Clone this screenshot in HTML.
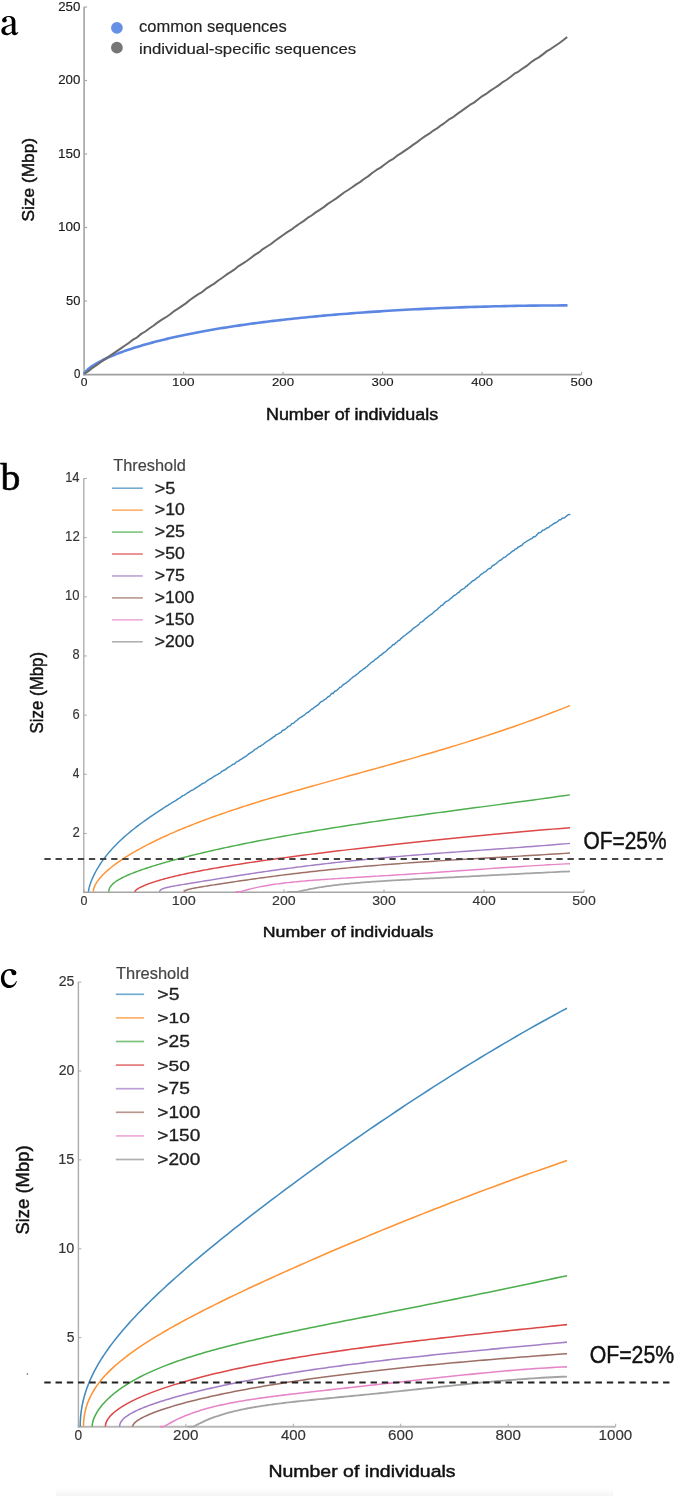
<!DOCTYPE html>
<html><head><meta charset="utf-8"><style>
html,body{margin:0;padding:0;background:#fff;}
body{width:685px;height:1496px;overflow:hidden;font-family:"Liberation Sans",sans-serif;}
svg{display:block;will-change:transform;filter:blur(0.3px);}
text{-webkit-font-smoothing:antialiased;}
</style></head><body>
<svg width="685" height="1496" viewBox="0 0 685 1496">
<rect width="685" height="1496" fill="#fff"/>
<path fill-rule="evenodd" fill="#000" d="M8.6 16.0 C12.6 16.0 15.4 17.6 15.4 21.5 L15.4 31.0 C15.4 32.3 15.9 32.8 16.5 32.8 C17.1 32.8 17.6 32.4 18.0 31.8 L18.4 32.3 C17.5 34.3 16.2 35.2 14.6 35.2 C13.0 35.2 12.0 34.2 11.8 32.4 C10.2 34.3 8.4 35.2 6.1 35.2 C3.2 35.2 1.3 33.5 1.3 30.8 C1.3 28.9 2.3 27.5 4.6 26.5 C6.5 25.7 9.0 24.9 11.8 24.0 L11.8 21.6 C11.8 18.6 10.6 17.1 8.6 17.1 C7.4 17.1 6.4 17.6 6.1 18.5 L2.6 19.6 C3.3 17.3 5.6 16.0 8.6 16.0 Z M11.8 25.2 C9.6 26.0 7.8 26.6 6.8 27.3 C5.6 28.2 5.2 29.3 5.2 30.4 C5.2 32.2 6.3 33.2 7.8 33.2 C9.2 33.2 10.6 32.5 11.8 31.4 Z"/>
<circle cx="4.4" cy="20.3" r="2.3" fill="#000"/>
<line x1="84.10" y1="7.00" x2="84.10" y2="375.50" stroke="#a4a4a4" stroke-width="1.6" />
<line x1="83.30" y1="374.70" x2="581.60" y2="374.70" stroke="#a0a0a0" stroke-width="1.8" />
<line x1="84.10" y1="374.50" x2="87.10" y2="374.50" stroke="#a8a8a8" stroke-width="1.2" />
<text transform="translate(73.94,378.10) scale(0.8814,1)" font-family="Liberation Sans" font-size="13.00" fill="#1a1a1a" stroke="#1a1a1a" stroke-width="0.15">0</text>
<line x1="84.10" y1="301.00" x2="87.10" y2="301.00" stroke="#a8a8a8" stroke-width="1.2" />
<text transform="translate(65.98,304.60) scale(0.9959,1)" font-family="Liberation Sans" font-size="13.00" fill="#1a1a1a" stroke="#1a1a1a" stroke-width="0.15">50</text>
<line x1="84.10" y1="227.50" x2="87.10" y2="227.50" stroke="#a8a8a8" stroke-width="1.2" />
<text transform="translate(57.89,231.10) scale(1.0388,1)" font-family="Liberation Sans" font-size="13.00" fill="#1a1a1a" stroke="#1a1a1a" stroke-width="0.15">100</text>
<line x1="84.10" y1="154.00" x2="87.10" y2="154.00" stroke="#a8a8a8" stroke-width="1.2" />
<text transform="translate(57.89,157.60) scale(1.0388,1)" font-family="Liberation Sans" font-size="13.00" fill="#1a1a1a" stroke="#1a1a1a" stroke-width="0.15">150</text>
<line x1="84.10" y1="80.50" x2="87.10" y2="80.50" stroke="#a8a8a8" stroke-width="1.2" />
<text transform="translate(58.24,84.10) scale(1.0224,1)" font-family="Liberation Sans" font-size="13.00" fill="#1a1a1a" stroke="#1a1a1a" stroke-width="0.15">200</text>
<line x1="84.10" y1="7.00" x2="87.10" y2="7.00" stroke="#a8a8a8" stroke-width="1.2" />
<text transform="translate(58.24,10.60) scale(1.0224,1)" font-family="Liberation Sans" font-size="13.00" fill="#1a1a1a" stroke="#1a1a1a" stroke-width="0.15">250</text>
<line x1="84.10" y1="374.70" x2="84.10" y2="371.70" stroke="#a8a8a8" stroke-width="1.2" />
<text transform="translate(80.72,385.90) scale(1.0442,1)" font-family="Liberation Sans" font-size="11.57" fill="#1a1a1a" stroke="#1a1a1a" stroke-width="0.15">0</text>
<line x1="183.60" y1="374.70" x2="183.60" y2="371.70" stroke="#a8a8a8" stroke-width="1.2" />
<text transform="translate(172.09,385.90) scale(1.1671,1)" font-family="Liberation Sans" font-size="11.57" fill="#1a1a1a" stroke="#1a1a1a" stroke-width="0.15">100</text>
<line x1="283.10" y1="374.70" x2="283.10" y2="371.70" stroke="#a8a8a8" stroke-width="1.2" />
<text transform="translate(271.94,385.90) scale(1.1486,1)" font-family="Liberation Sans" font-size="11.57" fill="#1a1a1a" stroke="#1a1a1a" stroke-width="0.15">200</text>
<line x1="382.60" y1="374.70" x2="382.60" y2="371.70" stroke="#a8a8a8" stroke-width="1.2" />
<text transform="translate(371.57,385.90) scale(1.1414,1)" font-family="Liberation Sans" font-size="11.57" fill="#1a1a1a" stroke="#1a1a1a" stroke-width="0.15">300</text>
<line x1="482.10" y1="374.70" x2="482.10" y2="371.70" stroke="#a8a8a8" stroke-width="1.2" />
<text transform="translate(471.34,385.90) scale(1.1272,1)" font-family="Liberation Sans" font-size="11.57" fill="#1a1a1a" stroke="#1a1a1a" stroke-width="0.15">400</text>
<line x1="581.60" y1="374.70" x2="581.60" y2="371.70" stroke="#a8a8a8" stroke-width="1.2" />
<text transform="translate(570.57,385.90) scale(1.1414,1)" font-family="Liberation Sans" font-size="11.57" fill="#1a1a1a" stroke="#1a1a1a" stroke-width="0.15">500</text>
<circle cx="116.9" cy="27.8" r="5.9" fill="#6690e6"/>
<circle cx="116.9" cy="47.7" r="5.9" fill="#767676"/>
<text transform="translate(139.04,31.80) scale(1.0372,1)" font-family="Liberation Sans" font-size="15.93" fill="#222" stroke="#222" stroke-width="0.15">common sequences</text>
<text transform="translate(138.91,53.90) scale(1.1274,1)" font-family="Liberation Sans" font-size="14.90" fill="#222" stroke="#222" stroke-width="0.15">individual-specific sequences</text>
<text transform="translate(265.97,420.10) scale(1.1308,1)" font-family="Liberation Sans" font-size="15.86" fill="#111" stroke="#111" stroke-width="0.45">Number of individuals</text>
<text transform="translate(34.10,221.48) rotate(-90) scale(1.0110,1)" font-family="Liberation Sans" font-size="17.10" fill="#111" stroke="#111" stroke-width="0.45">Size (Mbp)</text>
<polyline points="84.40,374.40 84.42,374.15 84.46,373.89 84.54,373.62 84.64,373.33 84.78,373.03 84.94,372.72 85.14,372.40 85.36,372.07 85.62,371.72 85.91,371.37 86.22,371.00 86.57,370.63 86.95,370.25 87.36,369.86 87.79,369.45 88.26,369.04 88.76,368.63 89.29,368.20 89.84,367.77 90.43,367.33 91.05,366.88 91.70,366.43 92.38,365.96 93.08,365.50 93.82,365.02 94.59,364.55 95.39,364.06 96.22,363.57 97.08,363.08 97.97,362.58 98.89,362.08 99.84,361.57 100.82,361.06 101.83,360.54 102.87,360.02 103.94,359.50 105.04,358.98 106.17,358.45 107.33,357.92 108.52,357.38 109.75,356.85 111.00,356.31 112.28,355.77 113.59,355.23 114.93,354.68 116.30,354.14 117.71,353.59 119.14,353.05 120.60,352.50 122.09,351.95 123.62,351.40 125.17,350.85 126.75,350.30 128.37,349.75 130.01,349.20 131.68,348.65 133.39,348.09 135.12,347.54 136.88,346.99 138.68,346.45 140.50,345.90 142.36,345.35 144.24,344.80 146.16,344.26 148.10,343.71 150.08,343.17 152.08,342.63 154.12,342.08 156.18,341.55 158.28,341.01 160.41,340.47 162.56,339.94 164.75,339.41 166.96,338.88 169.21,338.35 171.49,337.82 173.79,337.30 176.13,336.78 178.50,336.26 180.90,335.74 183.32,335.23 185.78,334.72 188.27,334.21 190.79,333.70 193.34,333.20 195.91,332.70 198.52,332.21 201.16,331.71 203.83,331.22 206.53,330.73 209.26,330.25 212.02,329.77 214.81,329.29 217.63,328.81 220.47,328.34 223.35,327.88 226.26,327.41 229.20,326.95 232.18,326.49 235.18,326.04 238.21,325.59 241.27,325.14 244.36,324.70 247.48,324.26 250.63,323.83 253.81,323.40 257.02,322.97 260.26,322.55 263.54,322.13 266.84,321.71 270.17,321.30 273.53,320.89 276.93,320.49 280.35,320.09 283.80,319.70 287.28,319.31 290.80,318.92 294.34,318.54 297.91,318.17 301.52,317.79 305.15,317.42 308.81,317.06 312.51,316.70 316.23,316.35 319.99,316.00 323.77,315.65 327.59,315.31 331.43,314.98 335.31,314.64 339.21,314.32 343.15,314.00 347.11,313.68 351.11,313.37 355.13,313.06 359.19,312.76 363.27,312.46 367.39,312.17 371.54,311.89 375.71,311.60 379.92,311.33 384.16,311.06 388.42,310.79 392.72,310.53 397.05,310.28 401.41,310.03 405.79,309.79 410.21,309.55 414.66,309.32 419.14,309.09 423.65,308.87 428.18,308.66 432.75,308.45 437.35,308.25 441.98,308.05 446.64,307.86 451.33,307.68 456.05,307.50 460.80,307.33 465.58,307.17 470.39,307.01 475.23,306.86 480.10,306.71 485.00,306.58 489.93,306.45 494.89,306.32 499.88,306.21 504.90,306.10 509.95,306.00 515.03,305.90 520.14,305.82 525.28,305.74 530.45,305.67 535.66,305.60 540.89,305.55 546.15,305.50 551.44,305.46 556.76,305.43 562.12,305.41 567.50,305.40" fill="none" stroke="#5b87e3" stroke-width="2.6" stroke-linejoin="round" stroke-linecap="butt" />
<polyline points="84.40,373.74 88.46,371.13 92.51,367.79 96.57,365.18 100.63,362.24 104.69,359.38 108.74,356.61 112.80,353.90 116.86,351.11 120.91,348.38 124.97,345.47 129.03,342.82 133.09,339.66 137.14,337.30 141.20,333.88 145.26,331.50 149.31,328.50 153.37,325.77 157.43,322.65 161.49,319.86 165.54,317.46 169.60,314.75 173.66,311.46 177.71,308.90 181.77,306.20 185.83,303.38 189.89,299.99 193.94,297.13 198.00,294.39 202.06,292.06 206.11,288.69 210.17,286.09 214.23,283.63 218.29,280.51 222.34,277.79 226.40,274.70 230.46,272.13 234.51,269.41 238.57,266.01 242.63,263.69 246.69,261.03 250.74,258.04 254.80,254.88 258.86,252.41 262.91,249.10 266.97,246.52 271.03,244.01 275.09,240.75 279.14,237.92 283.20,234.98 287.26,232.08 291.31,229.71 295.37,226.56 299.43,223.77 303.49,221.10 307.54,217.96 311.60,215.50 315.66,212.37 319.71,209.85 323.77,207.10 327.83,203.86 331.89,201.25 335.94,198.62 340.00,195.59 344.06,192.51 348.11,190.02 352.17,187.28 356.23,184.35 360.29,181.83 364.34,178.75 368.40,176.14 372.46,172.78 376.51,169.95 380.57,167.59 384.63,164.48 388.69,161.49 392.74,159.19 396.80,155.96 400.86,153.41 404.91,150.57 408.97,147.85 413.03,144.84 417.09,142.10 421.14,138.99 425.20,136.11 429.26,133.72 433.31,130.56 437.37,128.11 441.43,125.07 445.49,122.22 449.54,119.03 453.60,116.79 457.66,113.61 461.71,110.88 465.77,107.93 469.83,104.98 473.89,102.62 477.94,99.56 482.00,96.33 486.06,93.94 490.11,90.91 494.17,88.22 498.23,85.64 502.29,82.44 506.34,80.00 510.40,76.97 514.46,73.72 518.51,71.53 522.57,68.54 526.63,65.93 530.69,62.52 534.74,59.67 538.80,57.40 542.86,54.40 546.91,51.13 550.97,48.79 555.03,45.96 559.09,43.25 563.14,40.28 567.20,37.04" fill="none" stroke="#6a6a6a" stroke-width="2.0" stroke-linejoin="round" stroke-linecap="butt" />
<text transform="translate(0.50,489.70) scale(1.0240,1)" font-family="Liberation Serif" font-size="38.85" fill="#000" stroke="#000" stroke-width="0.60">b</text>
<line x1="83.80" y1="478.30" x2="83.80" y2="893.00" stroke="#a8a8a8" stroke-width="1.3" />
<line x1="83.20" y1="892.30" x2="584.00" y2="892.30" stroke="#a5a5a5" stroke-width="1.6" />
<line x1="83.80" y1="892.60" x2="86.80" y2="892.60" stroke="#a8a8a8" stroke-width="1.0" />
<line x1="83.80" y1="833.44" x2="86.80" y2="833.44" stroke="#a8a8a8" stroke-width="1.0" />
<text transform="translate(72.44,836.94) scale(0.9516,1)" font-family="Liberation Sans" font-size="13.86" fill="#333" stroke="#333" stroke-width="0.15">2</text>
<line x1="83.80" y1="774.28" x2="86.80" y2="774.28" stroke="#a8a8a8" stroke-width="1.0" />
<text transform="translate(72.86,777.78) scale(0.8452,1)" font-family="Liberation Sans" font-size="14.06" fill="#333" stroke="#333" stroke-width="0.15">4</text>
<line x1="83.80" y1="715.12" x2="86.80" y2="715.12" stroke="#a8a8a8" stroke-width="1.0" />
<text transform="translate(72.45,718.62) scale(0.9312,1)" font-family="Liberation Sans" font-size="13.86" fill="#333" stroke="#333" stroke-width="0.15">6</text>
<line x1="83.80" y1="655.96" x2="86.80" y2="655.96" stroke="#a8a8a8" stroke-width="1.0" />
<text transform="translate(72.53,659.46) scale(0.9213,1)" font-family="Liberation Sans" font-size="13.86" fill="#333" stroke="#333" stroke-width="0.15">8</text>
<line x1="83.80" y1="596.80" x2="86.80" y2="596.80" stroke="#a8a8a8" stroke-width="1.0" />
<text transform="translate(65.12,600.30) scale(0.9381,1)" font-family="Liberation Sans" font-size="13.86" fill="#333" stroke="#333" stroke-width="0.15">10</text>
<line x1="83.80" y1="537.64" x2="86.80" y2="537.64" stroke="#a8a8a8" stroke-width="1.0" />
<text transform="translate(65.11,541.14) scale(0.9524,1)" font-family="Liberation Sans" font-size="13.86" fill="#333" stroke="#333" stroke-width="0.15">12</text>
<line x1="83.80" y1="478.48" x2="86.80" y2="478.48" stroke="#a8a8a8" stroke-width="1.0" />
<text transform="translate(65.13,481.98) scale(0.9201,1)" font-family="Liberation Sans" font-size="14.06" fill="#333" stroke="#333" stroke-width="0.15">14</text>
<line x1="84.00" y1="892.30" x2="84.00" y2="889.30" stroke="#a8a8a8" stroke-width="1.0" />
<text transform="translate(80.50,904.50) scale(0.9309,1)" font-family="Liberation Sans" font-size="13.43" fill="#333" stroke="#333" stroke-width="0.15">0</text>
<line x1="184.00" y1="892.30" x2="184.00" y2="889.30" stroke="#a8a8a8" stroke-width="1.0" />
<text transform="translate(171.72,904.50) scale(1.0727,1)" font-family="Liberation Sans" font-size="13.43" fill="#333" stroke="#333" stroke-width="0.15">100</text>
<line x1="284.00" y1="892.30" x2="284.00" y2="889.30" stroke="#a8a8a8" stroke-width="1.0" />
<text transform="translate(272.09,904.50) scale(1.0558,1)" font-family="Liberation Sans" font-size="13.43" fill="#333" stroke="#333" stroke-width="0.15">200</text>
<line x1="384.00" y1="892.30" x2="384.00" y2="889.30" stroke="#a8a8a8" stroke-width="1.0" />
<text transform="translate(372.24,904.50) scale(1.0491,1)" font-family="Liberation Sans" font-size="13.43" fill="#333" stroke="#333" stroke-width="0.15">300</text>
<line x1="484.00" y1="892.30" x2="484.00" y2="889.30" stroke="#a8a8a8" stroke-width="1.0" />
<text transform="translate(472.52,904.50) scale(1.0361,1)" font-family="Liberation Sans" font-size="13.43" fill="#333" stroke="#333" stroke-width="0.15">400</text>
<line x1="584.00" y1="892.30" x2="584.00" y2="889.30" stroke="#a8a8a8" stroke-width="1.0" />
<text transform="translate(572.24,904.50) scale(1.0491,1)" font-family="Liberation Sans" font-size="13.43" fill="#333" stroke="#333" stroke-width="0.15">500</text>
<text transform="translate(113.27,471.20) scale(0.9718,1)" font-family="Liberation Sans" font-size="16.83" fill="#444" stroke="#444" stroke-width="0.18">Threshold</text>
<line x1="112.00" y1="488.20" x2="142.80" y2="488.20" stroke="#1f77b4" stroke-width="1.6" opacity="0.62"/>
<text transform="translate(154.80,493.50) scale(1.1351,1)" font-family="Liberation Sans" font-size="15.94" fill="#1e1e1e" stroke="#1e1e1e" stroke-width="0.30">&gt;5</text>
<line x1="112.00" y1="510.14" x2="142.80" y2="510.14" stroke="#ff7f0e" stroke-width="1.6" opacity="0.62"/>
<text transform="translate(154.81,515.44) scale(1.1265,1)" font-family="Liberation Sans" font-size="15.71" fill="#1e1e1e" stroke="#1e1e1e" stroke-width="0.30">&gt;10</text>
<line x1="112.00" y1="532.08" x2="142.80" y2="532.08" stroke="#2ca02c" stroke-width="1.6" opacity="0.62"/>
<text transform="translate(154.81,537.38) scale(1.1300,1)" font-family="Liberation Sans" font-size="15.71" fill="#1e1e1e" stroke="#1e1e1e" stroke-width="0.30">&gt;25</text>
<line x1="112.00" y1="554.02" x2="142.80" y2="554.02" stroke="#d62728" stroke-width="1.6" opacity="0.62"/>
<text transform="translate(154.81,559.32) scale(1.1265,1)" font-family="Liberation Sans" font-size="15.71" fill="#1e1e1e" stroke="#1e1e1e" stroke-width="0.30">&gt;50</text>
<line x1="112.00" y1="575.96" x2="142.80" y2="575.96" stroke="#9467bd" stroke-width="1.6" opacity="0.62"/>
<text transform="translate(154.81,581.26) scale(1.1138,1)" font-family="Liberation Sans" font-size="15.94" fill="#1e1e1e" stroke="#1e1e1e" stroke-width="0.30">&gt;75</text>
<line x1="112.00" y1="597.90" x2="142.80" y2="597.90" stroke="#8c564b" stroke-width="1.6" opacity="0.62"/>
<text transform="translate(154.82,603.20) scale(1.1169,1)" font-family="Liberation Sans" font-size="15.71" fill="#1e1e1e" stroke="#1e1e1e" stroke-width="0.30">&gt;100</text>
<line x1="112.00" y1="619.84" x2="142.80" y2="619.84" stroke="#e377c2" stroke-width="1.6" opacity="0.62"/>
<text transform="translate(154.82,625.14) scale(1.1169,1)" font-family="Liberation Sans" font-size="15.71" fill="#1e1e1e" stroke="#1e1e1e" stroke-width="0.30">&gt;150</text>
<line x1="112.00" y1="641.78" x2="142.80" y2="641.78" stroke="#7f7f7f" stroke-width="1.6" opacity="0.62"/>
<text transform="translate(154.82,647.08) scale(1.1169,1)" font-family="Liberation Sans" font-size="15.71" fill="#1e1e1e" stroke="#1e1e1e" stroke-width="0.30">&gt;200</text>
<text transform="translate(43.00,733.46) rotate(-90) scale(0.9641,1)" font-family="Liberation Sans" font-size="17.52" fill="#111" stroke="#111" stroke-width="0.45">Size (Mbp)</text>
<text transform="translate(262.78,937.30) scale(1.1495,1)" font-family="Liberation Sans" font-size="15.45" fill="#111" stroke="#111" stroke-width="0.45">Number of individuals</text>
<text transform="translate(583.46,849.20) scale(0.8920,1)" font-family="Liberation Sans" font-size="23.43" fill="#111" stroke="#111" stroke-width="0.45">OF=25%</text>
<polyline points="88.50,891.80 88.52,891.21 88.59,890.54 88.70,889.78 88.85,888.96 89.04,888.06 89.28,887.10 89.56,886.08 89.89,885.01 90.26,883.88 90.67,882.70 91.12,881.48 91.62,880.22 92.17,878.92 92.75,877.59 93.38,876.22 94.05,874.83 94.77,873.41 95.53,871.97 96.33,870.50 97.18,869.02 98.06,867.52 99.00,866.01 99.97,864.49 100.99,862.95 102.06,861.41 103.16,859.86 104.31,858.30 105.50,856.74 106.74,855.17 108.02,853.60 109.34,852.03 110.71,850.45 112.12,848.88 113.57,847.31 115.07,845.73 116.61,844.16 118.19,842.59 119.82,841.02 121.49,839.45 123.20,837.88 124.96,836.32 126.76,834.75 128.60,833.19 130.49,831.62 132.42,830.06 134.39,828.49 136.41,826.93 138.47,825.36 140.57,823.79 142.72,822.21 144.91,820.64 147.14,819.05 149.42,817.47 150.00,817.07 151.30,816.17 152.60,815.28 153.90,814.42 155.20,813.54 156.50,812.70 157.80,811.80 159.10,810.88 160.40,810.09 161.70,809.32 163.00,808.39 164.30,807.52 165.60,806.66 166.90,805.83 168.20,805.05 169.50,804.16 170.80,803.54 172.10,802.57 173.40,801.79 174.70,801.10 176.00,800.30 177.30,799.31 178.60,798.56 179.90,797.80 181.20,796.88 182.50,795.88 183.80,795.38 185.10,794.61 186.40,793.74 187.70,792.75 189.00,792.05 190.30,791.18 191.60,790.42 192.90,789.87 194.20,789.12 195.50,788.17 196.80,787.35 198.10,786.57 199.40,785.65 200.70,784.83 202.00,783.91 203.30,783.22 204.60,782.89 205.90,781.80 207.20,780.73 208.50,779.89 209.80,778.99 211.10,778.46 212.40,777.65 213.70,776.40 215.00,776.05 216.30,774.97 217.60,774.65 218.90,773.51 220.20,773.10 221.50,771.70 222.80,770.92 224.10,770.26 225.40,769.64 226.70,768.68 228.00,767.32 229.30,766.90 230.60,766.02 231.90,765.04 233.20,764.14 234.50,764.01 235.80,762.53 237.10,761.54 238.40,761.14 239.70,760.14 241.00,759.22 242.30,758.62 243.60,757.68 244.90,756.78 246.20,756.10 247.50,755.03 248.80,753.90 250.10,753.10 251.40,752.18 252.70,751.53 254.00,750.27 255.30,749.16 256.60,748.86 257.90,747.55 259.20,746.48 260.50,746.29 261.80,745.07 263.10,744.55 264.40,743.34 265.70,742.27 267.00,741.33 268.30,740.65 269.60,739.82 270.90,738.75 272.20,738.00 273.50,736.71 274.80,736.26 276.10,734.81 277.40,734.37 278.70,733.71 280.00,732.91 281.30,732.17 282.60,730.26 283.90,730.03 285.20,729.23 286.50,728.22 287.80,726.72 289.10,726.18 290.40,725.67 291.70,723.72 293.00,723.37 294.30,722.61 295.60,721.11 296.90,720.55 298.20,719.09 299.50,718.21 300.80,717.25 302.10,716.59 303.40,715.54 304.70,714.89 306.00,713.36 307.30,712.63 308.60,711.98 309.90,710.89 311.20,709.35 312.50,708.96 313.80,707.64 315.10,706.92 316.40,705.91 317.70,705.20 319.00,703.88 320.30,702.29 321.60,701.45 322.90,701.08 324.20,699.79 325.50,699.21 326.80,697.95 328.10,696.64 329.40,696.19 330.70,694.62 332.00,693.24 333.30,693.46 334.60,691.26 335.90,691.01 337.20,690.09 338.50,688.84 339.80,687.27 341.10,687.06 342.40,685.31 343.70,684.31 345.00,683.59 346.30,682.91 347.60,681.73 348.90,680.86 350.20,679.46 351.50,678.51 352.80,677.19 354.10,676.40 355.40,675.64 356.70,674.34 358.00,673.54 359.30,672.18 360.60,671.14 361.90,670.29 363.20,669.18 364.50,668.38 365.80,667.21 367.10,666.63 368.40,665.00 369.70,663.96 371.00,662.67 372.30,661.94 373.60,661.09 374.90,659.61 376.20,658.77 377.50,657.95 378.80,656.65 380.10,655.48 381.40,654.87 382.70,653.56 384.00,652.59 385.30,651.77 386.60,650.71 387.90,649.21 389.20,648.10 390.50,647.29 391.80,646.11 393.10,644.52 394.40,644.42 395.70,642.98 397.00,642.14 398.30,640.51 399.60,640.19 400.90,638.57 402.20,637.66 403.50,636.22 404.80,635.53 406.10,634.45 407.40,633.41 408.70,632.54 410.00,631.37 411.30,630.58 412.60,629.09 413.90,627.88 415.20,627.12 416.50,626.25 417.80,625.38 419.10,624.20 420.40,622.37 421.70,621.96 423.00,621.23 424.30,619.76 425.60,618.53 426.90,617.72 428.20,616.43 429.50,615.72 430.80,614.48 432.10,613.85 433.40,612.53 434.70,611.12 436.00,610.47 437.30,609.52 438.60,608.02 439.90,607.02 441.20,605.41 442.50,605.33 443.80,603.84 445.10,602.34 446.40,601.41 447.70,600.84 449.00,600.09 450.30,598.80 451.60,597.94 452.90,596.44 454.20,595.33 455.50,594.97 456.80,593.82 458.10,592.64 459.40,592.01 460.70,590.31 462.00,589.45 463.30,588.86 464.60,588.09 465.90,586.52 467.20,586.01 468.50,584.31 469.80,583.58 471.10,582.41 472.40,580.98 473.70,580.53 475.00,579.73 476.30,578.40 477.60,577.42 478.90,576.86 480.20,575.08 481.50,574.01 482.80,573.27 484.10,572.12 485.40,571.89 486.70,570.60 488.00,569.26 489.30,568.36 490.60,568.42 491.90,566.41 493.20,565.39 494.50,564.74 495.80,563.87 497.10,562.78 498.40,561.49 499.70,560.45 501.00,560.02 502.30,558.87 503.60,557.45 504.90,557.34 506.20,556.28 507.50,555.02 508.80,554.08 510.10,553.30 511.40,552.09 512.70,550.96 514.00,550.53 515.30,549.09 516.60,548.72 517.90,547.25 519.20,546.73 520.50,545.81 521.80,545.49 523.10,543.73 524.40,542.72 525.70,542.05 527.00,541.02 528.30,540.30 529.60,539.71 530.90,538.93 532.20,538.32 533.50,536.73 534.80,536.88 536.10,535.81 537.40,534.29 538.70,532.80 540.00,532.62 541.30,531.81 542.60,530.25 543.90,530.12 545.20,529.20 546.50,528.19 547.80,527.79 549.10,527.08 550.40,525.80 551.70,525.20 553.00,524.13 554.30,523.28 555.60,522.74 556.90,522.06 558.20,520.95 559.50,519.67 560.80,519.72 562.10,518.28 563.40,518.01 564.70,517.75 566.00,516.45 567.30,515.33 568.60,514.49 569.90,514.52 570.00,514.10" fill="none" stroke="#418bbf" stroke-width="1.45" stroke-linejoin="round" stroke-linecap="butt" />
<polyline points="93.40,891.80 93.42,891.11 93.49,890.40 93.59,889.68 93.74,888.95 93.94,888.21 94.17,887.46 94.45,886.70 94.77,885.92 95.14,885.14 95.55,884.34 96.00,883.53 96.49,882.71 97.03,881.88 97.61,881.04 98.23,880.18 98.90,879.32 99.60,878.45 100.36,877.56 101.15,876.67 101.99,875.76 102.87,874.85 103.79,873.93 104.76,872.99 105.77,872.05 106.82,871.10 107.91,870.14 109.05,869.17 110.23,868.19 111.45,867.20 112.72,866.21 114.03,865.20 115.38,864.19 116.78,863.18 118.22,862.15 119.70,861.12 121.22,860.08 122.79,859.03 124.40,857.98 126.05,856.93 127.75,855.86 129.49,854.79 131.27,853.72 133.09,852.64 134.96,851.55 136.87,850.46 138.83,849.37 140.82,848.27 142.86,847.17 144.94,846.06 147.07,844.95 149.24,843.84 151.45,842.73 153.70,841.61 156.00,840.48 158.34,839.36 160.72,838.23 163.15,837.10 165.62,835.97 168.13,834.84 170.68,833.70 173.28,832.56 175.92,831.42 178.60,830.28 181.33,829.14 184.10,828.00 186.91,826.85 189.77,825.71 192.67,824.56 195.61,823.42 198.59,822.27 201.62,821.12 204.69,819.97 207.80,818.82 210.96,817.67 214.15,816.52 217.40,815.37 220.68,814.22 224.01,813.07 227.38,811.91 230.79,810.76 234.25,809.60 237.75,808.45 241.29,807.29 244.87,806.13 248.50,804.97 252.17,803.81 255.89,802.65 259.64,801.48 263.44,800.31 267.29,799.15 271.17,797.97 275.10,796.80 279.07,795.62 283.09,794.44 287.14,793.26 291.24,792.07 295.39,790.87 299.57,789.68 303.80,788.47 308.08,787.26 312.39,786.05 316.75,784.83 321.15,783.60 325.59,782.36 330.08,781.12 334.61,779.87 339.18,778.60 343.80,777.33 348.46,776.05 353.16,774.76 357.90,773.45 362.69,772.14 367.52,770.81 372.39,769.46 377.31,768.10 382.27,766.73 387.27,765.34 392.31,763.93 397.40,762.50 402.53,761.06 407.71,759.59 412.92,758.10 418.18,756.60 423.48,755.06 428.83,753.51 434.22,751.93 439.65,750.32 445.12,748.69 450.64,747.02 456.20,745.33 461.80,743.60 467.45,741.85 473.14,740.06 478.87,738.23 484.65,736.37 490.46,734.47 496.32,732.53 502.23,730.55 508.17,728.53 514.16,726.46 520.20,724.35 526.27,722.19 532.39,719.98 538.55,717.72 544.75,715.41 551.00,713.04 557.29,710.62 563.62,708.14 570.00,705.60" fill="none" stroke="#ff9232" stroke-width="1.45" stroke-linejoin="round" stroke-linecap="butt" />
<polyline points="108.80,891.80 108.82,891.20 108.88,890.60 108.99,890.01 109.13,889.43 109.32,888.85 109.55,888.28 109.82,887.72 110.13,887.16 110.48,886.61 110.88,886.05 111.31,885.51 111.79,884.96 112.31,884.42 112.87,883.88 113.47,883.34 114.12,882.81 114.80,882.27 115.53,881.74 116.30,881.20 117.11,880.67 117.96,880.13 118.85,879.60 119.79,879.06 120.77,878.53 121.78,877.99 122.84,877.45 123.94,876.91 125.09,876.37 126.27,875.83 127.50,875.28 128.76,874.73 130.07,874.18 131.42,873.63 132.81,873.07 134.25,872.52 135.72,871.95 137.24,871.39 138.80,870.82 140.40,870.25 142.04,869.68 143.72,869.10 145.45,868.52 147.21,867.94 149.02,867.35 150.87,866.76 152.76,866.17 154.69,865.57 156.66,864.97 158.68,864.36 160.73,863.76 162.83,863.14 164.97,862.53 167.15,861.91 169.38,861.29 171.64,860.67 173.95,860.04 176.29,859.41 178.68,858.78 181.11,858.14 183.59,857.50 186.10,856.86 188.65,856.22 191.25,855.57 193.89,854.92 196.57,854.27 199.29,853.61 202.05,852.95 204.86,852.29 207.70,851.63 210.59,850.97 213.52,850.30 216.49,849.63 219.50,848.96 222.56,848.29 225.65,847.62 228.79,846.95 231.97,846.27 235.19,845.59 238.45,844.92 241.75,844.24 245.10,843.56 248.48,842.88 251.91,842.19 255.38,841.51 258.89,840.83 262.44,840.14 266.04,839.46 269.67,838.78 273.35,838.09 277.07,837.41 280.83,836.72 284.63,836.03 288.47,835.35 292.36,834.66 296.28,833.98 300.25,833.29 304.26,832.61 308.31,831.92 312.40,831.23 316.54,830.55 320.71,829.86 324.93,829.18 329.19,828.49 333.49,827.81 337.83,827.12 342.21,826.44 346.64,825.75 351.11,825.07 355.61,824.38 360.16,823.70 364.75,823.01 369.39,822.33 374.06,821.64 378.78,820.96 383.53,820.27 388.33,819.58 393.17,818.89 398.05,818.20 402.98,817.51 407.94,816.82 412.95,816.13 418.00,815.43 423.09,814.73 428.22,814.03 433.39,813.33 438.61,812.62 443.86,811.92 449.16,811.20 454.50,810.49 459.88,809.77 465.30,809.05 470.76,808.32 476.27,807.59 481.82,806.85 487.40,806.11 493.03,805.36 498.70,804.60 504.42,803.84 510.17,803.07 515.97,802.30 521.80,801.51 527.68,800.72 533.60,799.91 539.57,799.10 545.57,798.27 551.62,797.44 557.70,796.59 563.83,795.74 570.00,794.86" fill="none" stroke="#4cae4c" stroke-width="1.45" stroke-linejoin="round" stroke-linecap="butt" />
<polyline points="134.90,891.80 134.92,891.61 134.98,891.42 135.08,891.21 135.21,890.99 135.39,890.75 135.61,890.51 135.86,890.26 136.15,889.99 136.49,889.72 136.86,889.44 137.27,889.15 137.72,888.85 138.21,888.55 138.74,888.24 139.31,887.92 139.92,887.59 140.56,887.26 141.25,886.92 141.97,886.57 142.74,886.22 143.54,885.87 144.39,885.51 145.27,885.14 146.19,884.77 147.15,884.40 148.15,884.02 149.19,883.63 150.27,883.25 151.38,882.86 152.54,882.47 153.73,882.07 154.97,881.67 156.24,881.27 157.56,880.87 158.91,880.46 160.30,880.06 161.73,879.65 163.20,879.24 164.71,878.82 166.26,878.41 167.84,877.99 169.47,877.57 171.14,877.15 172.84,876.73 174.59,876.31 176.37,875.88 178.19,875.46 180.05,875.03 181.96,874.61 183.90,874.18 185.87,873.75 187.89,873.32 189.95,872.89 192.05,872.46 194.18,872.03 196.36,871.60 198.57,871.17 200.83,870.73 203.12,870.30 205.45,869.86 207.82,869.43 210.24,868.99 212.69,868.56 215.17,868.12 217.70,867.68 220.27,867.24 222.88,866.81 225.52,866.37 228.21,865.93 230.93,865.48 233.69,865.04 236.50,864.60 239.34,864.16 242.22,863.71 245.14,863.27 248.10,862.82 251.10,862.38 254.14,861.93 257.21,861.48 260.33,861.03 263.48,860.58 266.68,860.13 269.91,859.68 273.19,859.22 276.50,858.77 279.85,858.31 283.24,857.86 286.67,857.40 290.14,856.94 293.65,856.48 297.19,856.01 300.78,855.55 304.40,855.09 308.07,854.62 311.77,854.15 315.52,853.68 319.30,853.21 323.12,852.74 326.98,852.27 330.88,851.79 334.82,851.32 338.80,850.84 342.82,850.36 346.87,849.88 350.97,849.39 355.11,848.91 359.28,848.42 363.49,847.94 367.75,847.45 372.04,846.96 376.37,846.47 380.74,845.98 385.15,845.48 389.60,844.99 394.09,844.49 398.61,844.00 403.18,843.50 407.79,843.00 412.43,842.50 417.11,842.00 421.84,841.50 426.60,840.99 431.40,840.49 436.24,839.99 441.12,839.48 446.04,838.98 451.00,838.48 456.00,837.97 461.03,837.47 466.11,836.97 471.22,836.47 476.38,835.96 481.57,835.46 486.81,834.96 492.08,834.46 497.39,833.97 502.74,833.47 508.13,832.98 513.56,832.49 519.03,832.00 524.53,831.51 530.08,831.03 535.66,830.54 541.29,830.07 546.95,829.59 552.66,829.12 558.40,828.66 564.18,828.20 570.00,827.74" fill="none" stroke="#dc4748" stroke-width="1.45" stroke-linejoin="round" stroke-linecap="butt" />
<polyline points="159.70,891.80 159.72,891.50 159.77,891.21 159.87,890.93 160.00,890.66 160.16,890.41 160.37,890.17 160.61,889.94 160.88,889.72 161.20,889.50 161.55,889.29 161.94,889.09 162.36,888.90 162.82,888.71 163.32,888.52 163.86,888.34 164.43,888.16 165.04,887.98 165.69,887.80 166.37,887.63 167.09,887.46 167.85,887.28 168.64,887.11 169.48,886.93 170.35,886.76 171.25,886.58 172.19,886.40 173.17,886.22 174.19,886.03 175.24,885.84 176.33,885.65 177.46,885.45 178.62,885.25 179.83,885.05 181.06,884.84 182.34,884.63 183.65,884.41 185.00,884.19 186.39,883.96 187.81,883.72 189.27,883.48 190.77,883.24 192.30,882.99 193.87,882.73 195.48,882.47 197.12,882.20 198.81,881.93 200.52,881.65 202.28,881.37 204.07,881.07 205.90,880.78 207.77,880.48 209.67,880.17 211.61,879.85 213.59,879.54 215.61,879.21 217.66,878.88 219.75,878.55 221.87,878.21 224.03,877.86 226.23,877.51 228.47,877.16 230.74,876.80 233.05,876.43 235.40,876.07 237.78,875.69 240.20,875.32 242.66,874.94 245.16,874.56 247.69,874.17 250.26,873.78 252.86,873.39 255.51,872.99 258.19,872.59 260.90,872.19 263.66,871.79 266.45,871.39 269.27,870.98 272.14,870.57 275.04,870.17 277.98,869.76 280.95,869.34 283.97,868.93 287.02,868.52 290.10,868.11 293.23,867.70 296.39,867.28 299.58,866.87 302.82,866.46 306.09,866.05 309.40,865.64 312.74,865.23 316.12,864.82 319.54,864.41 323.00,864.01 326.49,863.60 330.02,863.20 333.59,862.80 337.19,862.40 340.83,862.01 344.51,861.61 348.23,861.22 351.98,860.83 355.77,860.44 359.59,860.06 363.45,859.68 367.35,859.30 371.29,858.92 375.26,858.55 379.27,858.18 383.32,857.81 387.41,857.44 391.53,857.08 395.69,856.72 399.88,856.36 404.11,856.00 408.38,855.65 412.69,855.30 417.03,854.95 421.41,854.60 425.83,854.26 430.28,853.91 434.77,853.57 439.30,853.22 443.87,852.88 448.47,852.54 453.11,852.20 457.78,851.86 462.50,851.52 467.24,851.17 472.03,850.83 476.86,850.49 481.72,850.14 486.61,849.79 491.55,849.44 496.52,849.08 501.53,848.72 506.57,848.35 511.66,847.98 516.77,847.61 521.93,847.23 527.12,846.84 532.35,846.44 537.62,846.04 542.93,845.62 548.27,845.20 553.64,844.76 559.06,844.32 564.51,843.86 570.00,843.39" fill="none" stroke="#a47ec7" stroke-width="1.45" stroke-linejoin="round" stroke-linecap="butt" />
<polyline points="184.50,891.80 184.52,891.61 184.57,891.43 184.66,891.25 184.78,891.08 184.93,890.92 185.13,890.75 185.35,890.60 185.61,890.44 185.91,890.29 186.24,890.14 186.60,889.99 187.00,889.85 187.43,889.70 187.90,889.56 188.41,889.42 188.95,889.27 189.52,889.13 190.13,888.98 190.77,888.84 191.45,888.69 192.16,888.54 192.90,888.39 193.69,888.24 194.50,888.08 195.35,887.92 196.24,887.76 197.16,887.60 198.11,887.43 199.10,887.26 200.13,887.08 201.19,886.91 202.28,886.72 203.41,886.54 204.57,886.35 205.77,886.15 207.00,885.95 208.27,885.75 209.57,885.55 210.91,885.33 212.28,885.12 213.69,884.90 215.13,884.67 216.61,884.44 218.12,884.21 219.66,883.97 221.24,883.73 222.86,883.48 224.51,883.23 226.19,882.98 227.91,882.72 229.66,882.46 231.45,882.19 233.28,881.92 235.13,881.64 237.03,881.36 238.95,881.08 240.92,880.79 242.91,880.50 244.94,880.21 247.01,879.91 249.11,879.61 251.25,879.31 253.42,879.00 255.62,878.69 257.86,878.38 260.14,878.07 262.45,877.75 264.79,877.43 267.17,877.11 269.58,876.79 272.03,876.46 274.52,876.14 277.03,875.81 279.59,875.48 282.17,875.15 284.79,874.82 287.45,874.49 290.14,874.16 292.87,873.82 295.63,873.49 298.43,873.16 301.26,872.82 304.12,872.49 307.02,872.16 309.96,871.82 312.92,871.49 315.93,871.16 318.97,870.83 322.04,870.50 325.15,870.17 328.29,869.84 331.47,869.51 334.68,869.19 337.93,868.86 341.21,868.54 344.53,868.22 347.88,867.90 351.26,867.58 354.69,867.27 358.14,866.96 361.63,866.65 365.16,866.34 368.72,866.03 372.31,865.73 375.94,865.43 379.60,865.13 383.30,864.83 387.03,864.53 390.80,864.24 394.61,863.95 398.44,863.66 402.32,863.38 406.22,863.10 410.16,862.81 414.14,862.54 418.15,862.26 422.20,861.98 426.28,861.71 430.39,861.44 434.54,861.17 438.73,860.90 442.95,860.64 447.20,860.37 451.49,860.11 455.81,859.84 460.17,859.58 464.57,859.32 468.99,859.06 473.46,858.80 477.95,858.53 482.49,858.27 487.05,858.01 491.65,857.74 496.29,857.48 500.96,857.21 505.67,856.94 510.41,856.67 515.18,856.39 519.99,856.11 524.84,855.83 529.72,855.54 534.63,855.25 539.58,854.95 544.56,854.65 549.58,854.34 554.63,854.02 559.72,853.70 564.84,853.37 570.00,853.03" fill="none" stroke="#9d6f66" stroke-width="1.45" stroke-linejoin="round" stroke-linecap="butt" />
<polyline points="235.40,891.80 235.42,891.80 235.46,891.80 235.54,891.80 235.64,891.80 235.78,891.80 235.94,891.80 236.14,891.80 236.36,891.80 236.62,891.80 236.91,891.80 237.22,891.80 237.57,891.80 237.95,891.80 238.35,891.80 238.79,891.80 239.26,891.80 239.76,891.80 240.28,891.74 240.84,891.58 241.43,891.41 242.05,891.24 242.69,891.05 243.37,890.85 244.08,890.65 244.82,890.44 245.59,890.23 246.39,890.01 247.22,889.78 248.08,889.55 248.96,889.32 249.88,889.09 250.83,888.85 251.81,888.61 252.82,888.37 253.86,888.12 254.93,887.88 256.03,887.64 257.16,887.39 258.32,887.15 259.51,886.90 260.74,886.66 261.99,886.42 263.27,886.18 264.58,885.94 265.92,885.70 267.29,885.46 268.69,885.23 270.12,885.00 271.59,884.77 273.08,884.54 274.60,884.32 276.15,884.10 277.74,883.88 279.35,883.66 280.99,883.45 282.66,883.24 284.37,883.03 286.10,882.83 287.86,882.63 289.66,882.43 291.48,882.23 293.33,882.04 295.22,881.85 297.13,881.66 299.08,881.48 301.05,881.30 303.06,881.12 305.09,880.94 307.15,880.76 309.25,880.59 311.37,880.42 313.53,880.25 315.72,880.08 317.93,879.91 320.18,879.75 322.45,879.58 324.76,879.42 327.09,879.26 329.46,879.10 331.86,878.94 334.28,878.78 336.74,878.62 339.23,878.46 341.74,878.30 344.29,878.14 346.87,877.98 349.48,877.82 352.11,877.66 354.78,877.49 357.48,877.33 360.21,877.17 362.96,877.00 365.75,876.83 368.57,876.66 371.42,876.49 374.30,876.32 377.21,876.14 380.15,875.96 383.11,875.78 386.11,875.60 389.14,875.41 392.20,875.22 395.29,875.03 398.41,874.84 401.56,874.64 404.74,874.44 407.95,874.23 411.19,874.02 414.46,873.81 417.76,873.60 421.09,873.38 424.46,873.16 427.85,872.93 431.27,872.70 434.72,872.47 438.20,872.23 441.71,871.99 445.25,871.75 448.83,871.50 452.43,871.25 456.06,871.00 459.72,870.75 463.42,870.49 467.14,870.23 470.89,869.96 474.67,869.70 478.49,869.43 482.33,869.16 486.20,868.89 490.11,868.61 494.04,868.34 498.00,868.06 502.00,867.79 506.02,867.51 510.08,867.24 514.16,866.96 518.27,866.69 522.42,866.42 526.59,866.15 530.80,865.88 535.03,865.62 539.30,865.35 543.59,865.10 547.92,864.84 552.28,864.60 556.66,864.36 561.08,864.12 565.52,863.89 570.00,863.67" fill="none" stroke="#e685c8" stroke-width="1.45" stroke-linejoin="round" stroke-linecap="butt" />
<polyline points="287.20,891.80 287.21,891.80 287.25,891.80 287.31,891.80 287.40,891.80 287.52,891.80 287.66,891.80 287.82,891.80 288.02,891.80 288.23,891.80 288.47,891.80 288.74,891.80 289.03,891.80 289.35,891.80 289.70,891.80 290.07,891.80 290.46,891.80 290.88,891.80 291.33,891.80 291.80,891.80 292.30,891.80 292.82,891.80 293.37,891.80 293.94,891.80 294.54,891.80 295.16,891.80 295.81,891.80 296.49,891.80 297.19,891.80 297.91,891.77 298.66,891.59 299.44,891.41 300.24,891.22 301.07,891.02 301.93,890.83 302.80,890.63 303.71,890.42 304.64,890.22 305.59,890.01 306.57,889.80 307.58,889.59 308.61,889.38 309.67,889.16 310.75,888.95 311.86,888.74 312.99,888.52 314.15,888.31 315.34,888.09 316.55,887.88 317.78,887.67 319.05,887.45 320.33,887.24 321.64,887.03 322.98,886.83 324.34,886.62 325.73,886.42 327.15,886.21 328.59,886.01 330.05,885.81 331.54,885.62 333.06,885.42 334.60,885.23 336.17,885.04 337.76,884.85 339.38,884.67 341.02,884.48 342.69,884.30 344.38,884.12 346.10,883.95 347.85,883.78 349.62,883.60 351.41,883.44 353.23,883.27 355.08,883.11 356.95,882.94 358.85,882.78 360.78,882.63 362.72,882.47 364.70,882.32 366.70,882.16 368.72,882.01 370.78,881.87 372.85,881.72 374.95,881.57 377.08,881.43 379.23,881.29 381.41,881.15 383.62,881.01 385.84,880.87 388.10,880.73 390.38,880.59 392.68,880.46 395.02,880.32 397.37,880.19 399.75,880.05 402.16,879.92 404.59,879.78 407.05,879.65 409.54,879.51 412.05,879.38 414.58,879.24 417.14,879.11 419.73,878.97 422.34,878.84 424.98,878.70 427.64,878.56 430.33,878.43 433.04,878.29 435.78,878.15 438.54,878.01 441.33,877.86 444.15,877.72 446.99,877.58 449.85,877.43 452.75,877.28 455.66,877.13 458.60,876.98 461.57,876.83 464.57,876.68 467.59,876.52 470.63,876.36 473.70,876.21 476.79,876.05 479.92,875.88 483.06,875.72 486.23,875.56 489.43,875.39 492.65,875.22 495.90,875.05 499.18,874.88 502.47,874.71 505.80,874.54 509.15,874.37 512.53,874.19 515.93,874.02 519.35,873.84 522.81,873.66 526.28,873.48 529.79,873.31 533.31,873.13 536.87,872.95 540.45,872.78 544.05,872.60 547.68,872.42 551.34,872.25 555.02,872.08 558.73,871.91 562.46,871.74 566.22,871.57 570.00,871.41" fill="none" stroke="#a3a3a3" stroke-width="1.75" stroke-linejoin="round" stroke-linecap="butt" />
<line x1="44.40" y1="858.90" x2="663.00" y2="858.90" stroke="#444" stroke-width="2.0" stroke-dasharray="6.3 4.83"/>
<path d="M16.9 981.2 C15.7 985.6 12.9 988.0 9.0 988.0 C4.2 988.0 0.9 984.2 0.9 978.7 C0.9 972.9 4.8 969.0 9.9 969.0 C13.3 969.0 15.9 970.6 16.3 972.6 L11.9 973.4 C11.5 971.5 10.6 970.5 9.4 970.5 C6.3 970.5 4.3 973.6 4.3 977.8 C4.3 982.4 6.9 985.3 10.5 985.3 C13.0 985.3 14.8 983.9 16.2 981.0 Z" fill="#000"/>
<circle cx="14.0" cy="972.9" r="2.45" fill="#000"/>
<line x1="78.40" y1="981.80" x2="78.40" y2="1427.56" stroke="#ababab" stroke-width="1.4" />
<line x1="77.70" y1="1426.76" x2="615.50" y2="1426.76" stroke="#b8b8b8" stroke-width="1.9" />
<line x1="78.40" y1="1426.60" x2="81.40" y2="1426.60" stroke="#a8a8a8" stroke-width="1.0" />
<line x1="78.40" y1="1337.70" x2="81.40" y2="1337.70" stroke="#a8a8a8" stroke-width="1.0" />
<text transform="translate(66.64,1341.60) scale(0.9587,1)" font-family="Liberation Sans" font-size="14.49" fill="#333" stroke="#333" stroke-width="0.15">5</text>
<line x1="78.40" y1="1248.80" x2="81.40" y2="1248.80" stroke="#a8a8a8" stroke-width="1.0" />
<text transform="translate(58.32,1252.70) scale(1.0080,1)" font-family="Liberation Sans" font-size="14.29" fill="#333" stroke="#333" stroke-width="0.15">10</text>
<line x1="78.40" y1="1159.90" x2="81.40" y2="1159.90" stroke="#a8a8a8" stroke-width="1.0" />
<text transform="translate(58.31,1163.80) scale(0.9986,1)" font-family="Liberation Sans" font-size="14.49" fill="#333" stroke="#333" stroke-width="0.15">15</text>
<line x1="78.40" y1="1071.00" x2="81.40" y2="1071.00" stroke="#a8a8a8" stroke-width="1.0" />
<text transform="translate(58.70,1074.90) scale(0.9834,1)" font-family="Liberation Sans" font-size="14.29" fill="#333" stroke="#333" stroke-width="0.15">20</text>
<line x1="78.40" y1="982.10" x2="81.40" y2="982.10" stroke="#a8a8a8" stroke-width="1.0" />
<text transform="translate(58.69,986.00) scale(0.9882,1)" font-family="Liberation Sans" font-size="14.29" fill="#333" stroke="#333" stroke-width="0.15">25</text>
<line x1="78.40" y1="1426.76" x2="78.40" y2="1423.76" stroke="#a8a8a8" stroke-width="1.0" />
<text transform="translate(74.55,1439.70) scale(0.9625,1)" font-family="Liberation Sans" font-size="14.29" fill="#333" stroke="#333" stroke-width="0.15">0</text>
<line x1="185.86" y1="1426.76" x2="185.86" y2="1423.76" stroke="#a8a8a8" stroke-width="1.0" />
<text transform="translate(173.10,1439.70) scale(1.0633,1)" font-family="Liberation Sans" font-size="14.29" fill="#333" stroke="#333" stroke-width="0.15">200</text>
<line x1="293.32" y1="1426.76" x2="293.32" y2="1423.76" stroke="#a8a8a8" stroke-width="1.0" />
<text transform="translate(281.02,1439.70) scale(1.0435,1)" font-family="Liberation Sans" font-size="14.29" fill="#333" stroke="#333" stroke-width="0.15">400</text>
<line x1="400.78" y1="1426.76" x2="400.78" y2="1423.76" stroke="#a8a8a8" stroke-width="1.0" />
<text transform="translate(388.02,1439.70) scale(1.0633,1)" font-family="Liberation Sans" font-size="14.29" fill="#333" stroke="#333" stroke-width="0.15">600</text>
<line x1="508.24" y1="1426.76" x2="508.24" y2="1423.76" stroke="#a8a8a8" stroke-width="1.0" />
<text transform="translate(495.56,1439.70) scale(1.0599,1)" font-family="Liberation Sans" font-size="14.29" fill="#333" stroke="#333" stroke-width="0.15">800</text>
<line x1="615.70" y1="1426.76" x2="615.70" y2="1423.76" stroke="#a8a8a8" stroke-width="1.0" />
<text transform="translate(598.57,1439.70) scale(1.0591,1)" font-family="Liberation Sans" font-size="14.29" fill="#333" stroke="#333" stroke-width="0.15">1000</text>
<text transform="translate(115.97,978.70) scale(1.0458,1)" font-family="Liberation Sans" font-size="15.72" fill="#444" stroke="#444" stroke-width="0.18">Threshold</text>
<line x1="115.80" y1="994.30" x2="144.10" y2="994.30" stroke="#1f77b4" stroke-width="1.7" opacity="0.62"/>
<text transform="translate(157.33,999.70) scale(1.2299,1)" font-family="Liberation Sans" font-size="15.80" fill="#1e1e1e" stroke="#1e1e1e" stroke-width="0.30">&gt;5</text>
<line x1="115.80" y1="1017.90" x2="144.10" y2="1017.90" stroke="#ff7f0e" stroke-width="1.7" opacity="0.62"/>
<text transform="translate(157.34,1023.30) scale(1.2325,1)" font-family="Liberation Sans" font-size="15.57" fill="#1e1e1e" stroke="#1e1e1e" stroke-width="0.30">&gt;10</text>
<line x1="115.80" y1="1041.50" x2="144.10" y2="1041.50" stroke="#2ca02c" stroke-width="1.7" opacity="0.62"/>
<text transform="translate(157.34,1046.90) scale(1.2364,1)" font-family="Liberation Sans" font-size="15.57" fill="#1e1e1e" stroke="#1e1e1e" stroke-width="0.30">&gt;25</text>
<line x1="115.80" y1="1065.10" x2="144.10" y2="1065.10" stroke="#d62728" stroke-width="1.7" opacity="0.62"/>
<text transform="translate(157.34,1070.50) scale(1.2325,1)" font-family="Liberation Sans" font-size="15.57" fill="#1e1e1e" stroke="#1e1e1e" stroke-width="0.30">&gt;50</text>
<line x1="115.80" y1="1088.70" x2="144.10" y2="1088.70" stroke="#9467bd" stroke-width="1.7" opacity="0.62"/>
<text transform="translate(157.34,1094.10) scale(1.2187,1)" font-family="Liberation Sans" font-size="15.80" fill="#1e1e1e" stroke="#1e1e1e" stroke-width="0.30">&gt;75</text>
<line x1="115.80" y1="1112.30" x2="144.10" y2="1112.30" stroke="#8c564b" stroke-width="1.7" opacity="0.62"/>
<text transform="translate(157.35,1117.70) scale(1.2251,1)" font-family="Liberation Sans" font-size="15.57" fill="#1e1e1e" stroke="#1e1e1e" stroke-width="0.30">&gt;100</text>
<line x1="115.80" y1="1135.90" x2="144.10" y2="1135.90" stroke="#e377c2" stroke-width="1.7" opacity="0.62"/>
<text transform="translate(157.35,1141.30) scale(1.2251,1)" font-family="Liberation Sans" font-size="15.57" fill="#1e1e1e" stroke="#1e1e1e" stroke-width="0.30">&gt;150</text>
<line x1="115.80" y1="1159.50" x2="144.10" y2="1159.50" stroke="#7f7f7f" stroke-width="1.7" opacity="0.62"/>
<text transform="translate(157.35,1164.90) scale(1.2251,1)" font-family="Liberation Sans" font-size="15.57" fill="#1e1e1e" stroke="#1e1e1e" stroke-width="0.30">&gt;200</text>
<text transform="translate(29.10,1234.53) rotate(-90) scale(0.9985,1)" font-family="Liberation Sans" font-size="18.48" fill="#111" stroke="#111" stroke-width="0.45">Size (Mbp)</text>
<text transform="translate(268.44,1476.90) scale(1.1478,1)" font-family="Liberation Sans" font-size="16.97" fill="#111" stroke="#111" stroke-width="0.45">Number of individuals</text>
<text transform="translate(589.64,1363.40) scale(0.9019,1)" font-family="Liberation Sans" font-size="23.57" fill="#111" stroke="#111" stroke-width="0.45">OF=25%</text>
<polyline points="80.20,1426.60 80.22,1424.34 80.29,1422.09 80.40,1419.84 80.55,1417.61 80.75,1415.39 80.99,1413.17 81.27,1410.97 81.60,1408.77 81.98,1406.58 82.39,1404.40 82.85,1402.22 83.36,1400.04 83.91,1397.88 84.50,1395.71 85.13,1393.55 85.81,1391.40 86.54,1389.25 87.30,1387.10 88.12,1384.95 88.97,1382.80 89.87,1380.66 90.81,1378.51 91.80,1376.37 92.83,1374.22 93.90,1372.07 95.02,1369.93 96.18,1367.77 97.39,1365.62 98.64,1363.47 99.93,1361.31 101.27,1359.14 102.65,1356.98 104.08,1354.80 105.55,1352.62 107.06,1350.44 108.62,1348.25 110.22,1346.05 111.86,1343.85 113.55,1341.64 115.28,1339.42 117.06,1337.19 118.88,1334.95 120.74,1332.70 122.65,1330.44 124.60,1328.18 126.60,1325.90 128.64,1323.61 130.72,1321.31 132.85,1319.00 135.02,1316.67 137.23,1314.34 139.49,1311.99 141.79,1309.62 144.14,1307.25 146.53,1304.86 148.96,1302.45 151.44,1300.03 153.96,1297.60 156.53,1295.15 159.14,1292.68 161.79,1290.20 164.49,1287.70 167.23,1285.19 170.01,1282.66 172.84,1280.11 175.71,1277.54 178.63,1274.96 181.59,1272.36 184.59,1269.74 187.64,1267.11 190.73,1264.46 193.87,1261.78 197.05,1259.09 200.27,1256.38 203.54,1253.65 206.85,1250.91 210.20,1248.14 213.60,1245.35 217.05,1242.55 220.53,1239.72 224.06,1236.88 227.64,1234.02 231.25,1231.13 234.92,1228.23 238.62,1225.31 242.37,1222.37 246.17,1219.40 250.00,1216.42 253.88,1213.42 257.81,1210.40 261.78,1207.36 265.79,1204.30 269.85,1201.22 273.95,1198.12 278.09,1195.00 282.28,1191.87 286.51,1188.71 290.79,1185.54 295.11,1182.34 299.47,1179.13 303.88,1175.90 308.33,1172.66 312.82,1169.39 317.36,1166.11 321.94,1162.81 326.57,1159.49 331.24,1156.16 335.96,1152.81 340.71,1149.45 345.52,1146.07 350.36,1142.67 355.25,1139.26 360.19,1135.84 365.16,1132.40 370.18,1128.95 375.25,1125.49 380.36,1122.01 385.51,1118.52 390.71,1115.02 395.95,1111.51 401.23,1107.99 406.56,1104.46 411.93,1100.92 417.35,1097.37 422.81,1093.82 428.31,1090.25 433.86,1086.68 439.45,1083.11 445.09,1079.53 450.77,1075.94 456.49,1072.36 462.26,1068.77 468.07,1065.17 473.92,1061.58 479.82,1057.99 485.76,1054.39 491.75,1050.80 497.78,1047.22 503.85,1043.63 509.97,1040.05 516.13,1036.48 522.33,1032.91 528.58,1029.35 534.88,1025.79 541.21,1022.25 547.59,1018.72 554.02,1015.20 560.49,1011.69 567.00,1008.20" fill="none" stroke="#418bbf" stroke-width="1.55" stroke-linejoin="round" stroke-linecap="butt" />
<polyline points="83.50,1426.60 83.52,1424.79 83.59,1422.99 83.70,1421.21 83.85,1419.45 84.04,1417.70 84.28,1415.97 84.57,1414.25 84.89,1412.55 85.26,1410.86 85.68,1409.19 86.14,1407.52 86.64,1405.88 87.18,1404.24 87.77,1402.62 88.40,1401.00 89.08,1399.40 89.79,1397.81 90.56,1396.22 91.36,1394.65 92.21,1393.09 93.10,1391.53 94.04,1389.98 95.02,1388.44 96.04,1386.91 97.11,1385.38 98.22,1383.86 99.38,1382.35 100.57,1380.84 101.82,1379.33 103.10,1377.83 104.43,1376.34 105.80,1374.85 107.22,1373.36 108.68,1371.87 110.18,1370.39 111.72,1368.91 113.31,1367.43 114.95,1365.95 116.62,1364.48 118.35,1363.00 120.11,1361.52 121.92,1360.05 123.77,1358.57 125.66,1357.09 127.60,1355.61 129.58,1354.13 131.61,1352.65 133.68,1351.17 135.79,1349.68 137.95,1348.19 140.15,1346.70 142.39,1345.20 144.68,1343.70 147.01,1342.19 149.38,1340.68 151.80,1339.17 154.26,1337.65 156.76,1336.13 159.31,1334.60 161.90,1333.06 164.54,1331.52 167.22,1329.97 169.94,1328.41 172.70,1326.85 175.51,1325.28 178.37,1323.71 181.26,1322.12 184.20,1320.53 187.19,1318.93 190.21,1317.32 193.28,1315.70 196.40,1314.08 199.56,1312.45 202.76,1310.80 206.00,1309.15 209.29,1307.49 212.62,1305.82 216.00,1304.14 219.42,1302.45 222.88,1300.75 226.39,1299.04 229.94,1297.32 233.53,1295.58 237.17,1293.84 240.85,1292.09 244.57,1290.33 248.34,1288.56 252.15,1286.77 256.01,1284.98 259.90,1283.18 263.85,1281.36 267.83,1279.53 271.86,1277.70 275.93,1275.85 280.05,1273.99 284.21,1272.12 288.41,1270.23 292.66,1268.34 296.95,1266.44 301.28,1264.52 305.66,1262.60 310.08,1260.66 314.55,1258.72 319.05,1256.76 323.61,1254.79 328.20,1252.81 332.84,1250.82 337.52,1248.82 342.25,1246.81 347.02,1244.79 351.83,1242.77 356.69,1240.73 361.59,1238.68 366.53,1236.62 371.52,1234.55 376.55,1232.47 381.62,1230.39 386.74,1228.29 391.90,1226.19 397.11,1224.07 402.36,1221.95 407.65,1219.83 412.98,1217.69 418.36,1215.55 423.79,1213.40 429.25,1211.24 434.76,1209.08 440.32,1206.91 445.91,1204.73 451.55,1202.55 457.24,1200.36 462.97,1198.17 468.74,1195.98 474.55,1193.78 480.41,1191.57 486.31,1189.36 492.26,1187.15 498.25,1184.94 504.28,1182.73 510.35,1180.51 516.47,1178.29 522.64,1176.07 528.84,1173.85 535.09,1171.64 541.39,1169.42 547.73,1167.20 554.11,1164.99 560.53,1162.77 567.00,1160.56" fill="none" stroke="#ff9232" stroke-width="1.55" stroke-linejoin="round" stroke-linecap="butt" />
<polyline points="92.20,1426.60 92.22,1425.77 92.29,1424.91 92.39,1424.03 92.54,1423.14 92.73,1422.22 92.97,1421.28 93.25,1420.33 93.57,1419.36 93.93,1418.37 94.34,1417.37 94.79,1416.36 95.28,1415.34 95.81,1414.30 96.39,1413.26 97.01,1412.20 97.67,1411.14 98.38,1410.06 99.13,1408.98 99.92,1407.90 100.75,1406.81 101.63,1405.71 102.55,1404.61 103.51,1403.51 104.52,1402.40 105.57,1401.29 106.66,1400.18 107.79,1399.07 108.97,1397.95 110.19,1396.84 111.45,1395.73 112.75,1394.62 114.10,1393.51 115.49,1392.40 116.92,1391.29 118.40,1390.19 119.92,1389.09 121.48,1387.99 123.08,1386.90 124.73,1385.81 126.42,1384.73 128.15,1383.64 129.93,1382.57 131.74,1381.50 133.60,1380.43 135.51,1379.37 137.45,1378.32 139.44,1377.27 141.47,1376.22 143.55,1375.18 145.67,1374.15 147.83,1373.13 150.03,1372.11 152.27,1371.09 154.56,1370.09 156.89,1369.09 159.27,1368.09 161.68,1367.10 164.14,1366.12 166.65,1365.15 169.19,1364.18 171.78,1363.22 174.41,1362.26 177.08,1361.31 179.80,1360.36 182.56,1359.42 185.36,1358.49 188.20,1357.56 191.09,1356.64 194.02,1355.72 196.99,1354.81 200.01,1353.90 203.07,1353.00 206.17,1352.10 209.31,1351.21 212.50,1350.32 215.73,1349.44 219.00,1348.55 222.32,1347.68 225.67,1346.80 229.07,1345.93 232.52,1345.06 236.00,1344.19 239.53,1343.33 243.10,1342.46 246.72,1341.60 250.37,1340.74 254.07,1339.88 257.82,1339.03 261.60,1338.17 265.43,1337.31 269.30,1336.45 273.21,1335.60 277.17,1334.74 281.17,1333.88 285.21,1333.01 289.30,1332.15 293.42,1331.29 297.60,1330.42 301.81,1329.55 306.06,1328.67 310.36,1327.79 314.70,1326.91 319.09,1326.03 323.52,1325.14 327.99,1324.24 332.50,1323.34 337.05,1322.44 341.65,1321.53 346.29,1320.61 350.98,1319.69 355.70,1318.76 360.47,1317.82 365.28,1316.87 370.14,1315.92 375.04,1314.96 379.98,1313.99 384.96,1313.01 389.98,1312.03 395.05,1311.03 400.16,1310.03 405.32,1309.01 410.52,1307.98 415.76,1306.95 421.04,1305.90 426.36,1304.84 431.73,1303.78 437.14,1302.70 442.60,1301.60 448.09,1300.50 453.63,1299.38 459.21,1298.25 464.84,1297.11 470.50,1295.96 476.21,1294.79 481.97,1293.61 487.76,1292.42 493.60,1291.21 499.48,1289.99 505.41,1288.76 511.37,1287.51 517.38,1286.25 523.44,1284.97 529.53,1283.68 535.67,1282.38 541.85,1281.06 548.07,1279.73 554.34,1278.38 560.65,1277.02 567.00,1275.64" fill="none" stroke="#4cae4c" stroke-width="1.55" stroke-linejoin="round" stroke-linecap="butt" />
<polyline points="105.40,1426.60 105.42,1425.94 105.48,1425.27 105.59,1424.60 105.73,1423.92 105.92,1423.24 106.15,1422.56 106.42,1421.88 106.73,1421.19 107.08,1420.50 107.48,1419.81 107.92,1419.11 108.39,1418.41 108.91,1417.70 109.48,1417.00 110.08,1416.29 110.72,1415.58 111.41,1414.86 112.14,1414.15 112.91,1413.43 113.72,1412.71 114.57,1411.98 115.46,1411.26 116.40,1410.53 117.38,1409.80 118.39,1409.06 119.46,1408.33 120.56,1407.59 121.70,1406.86 122.89,1406.12 124.11,1405.38 125.38,1404.63 126.69,1403.89 128.04,1403.14 129.44,1402.40 130.87,1401.65 132.35,1400.90 133.86,1400.15 135.42,1399.40 137.02,1398.65 138.67,1397.90 140.35,1397.15 142.08,1396.40 143.84,1395.65 145.65,1394.89 147.50,1394.14 149.40,1393.39 151.33,1392.63 153.30,1391.88 155.32,1391.13 157.38,1390.38 159.48,1389.63 161.62,1388.87 163.80,1388.12 166.03,1387.37 168.30,1386.63 170.60,1385.88 172.95,1385.13 175.34,1384.38 177.78,1383.64 180.25,1382.89 182.77,1382.15 185.32,1381.41 187.92,1380.67 190.56,1379.93 193.25,1379.20 195.97,1378.46 198.73,1377.73 201.54,1377.00 204.39,1376.27 207.28,1375.54 210.21,1374.81 213.18,1374.09 216.20,1373.37 219.26,1372.65 222.35,1371.93 225.49,1371.22 228.67,1370.50 231.90,1369.79 235.16,1369.09 238.47,1368.38 241.82,1367.68 245.20,1366.98 248.64,1366.28 252.11,1365.59 255.62,1364.90 259.18,1364.21 262.77,1363.52 266.41,1362.84 270.09,1362.15 273.81,1361.48 277.58,1360.80 281.38,1360.13 285.23,1359.46 289.12,1358.79 293.05,1358.13 297.02,1357.46 301.03,1356.80 305.08,1356.15 309.18,1355.49 313.32,1354.84 317.50,1354.20 321.72,1353.55 325.98,1352.91 330.28,1352.27 334.63,1351.63 339.02,1350.99 343.45,1350.36 347.92,1349.73 352.43,1349.10 356.98,1348.48 361.58,1347.86 366.21,1347.23 370.89,1346.61 375.61,1346.00 380.37,1345.38 385.18,1344.77 390.02,1344.16 394.91,1343.55 399.83,1342.94 404.80,1342.33 409.81,1341.72 414.87,1341.12 419.96,1340.52 425.10,1339.91 430.27,1339.31 435.49,1338.71 440.75,1338.11 446.05,1337.51 451.40,1336.91 456.78,1336.30 462.21,1335.70 467.68,1335.10 473.19,1334.50 478.74,1333.90 484.33,1333.29 489.97,1332.69 495.64,1332.08 501.36,1331.47 507.12,1330.86 512.92,1330.25 518.76,1329.64 524.65,1329.02 530.57,1328.40 536.54,1327.78 542.55,1327.15 548.60,1326.52 554.69,1325.89 560.82,1325.25 567.00,1324.61" fill="none" stroke="#dc4748" stroke-width="1.55" stroke-linejoin="round" stroke-linecap="butt" />
<polyline points="119.60,1426.60 119.62,1426.02 119.68,1425.44 119.78,1424.87 119.92,1424.30 120.10,1423.73 120.33,1423.17 120.59,1422.61 120.89,1422.06 121.23,1421.51 121.62,1420.96 122.04,1420.41 122.50,1419.87 123.01,1419.32 123.55,1418.78 124.13,1418.24 124.76,1417.70 125.42,1417.16 126.13,1416.62 126.87,1416.08 127.66,1415.54 128.49,1415.00 129.35,1414.46 130.26,1413.91 131.21,1413.37 132.20,1412.83 133.22,1412.28 134.29,1411.74 135.40,1411.19 136.55,1410.64 137.74,1410.09 138.97,1409.54 140.24,1408.98 141.55,1408.43 142.90,1407.87 144.29,1407.31 145.72,1406.75 147.19,1406.18 148.70,1405.62 150.25,1405.05 151.84,1404.48 153.48,1403.90 155.15,1403.33 156.86,1402.75 158.61,1402.17 160.41,1401.59 162.24,1401.01 164.12,1400.42 166.03,1399.84 167.99,1399.25 169.98,1398.66 172.02,1398.06 174.09,1397.47 176.21,1396.87 178.36,1396.27 180.56,1395.67 182.80,1395.07 185.07,1394.47 187.39,1393.86 189.75,1393.26 192.15,1392.65 194.59,1392.04 197.07,1391.43 199.58,1390.82 202.14,1390.21 204.74,1389.60 207.38,1388.99 210.06,1388.37 212.78,1387.76 215.54,1387.15 218.35,1386.53 221.19,1385.92 224.07,1385.30 226.99,1384.69 229.95,1384.07 232.96,1383.46 236.00,1382.84 239.08,1382.23 242.21,1381.62 245.37,1381.01 248.57,1380.40 251.82,1379.79 255.10,1379.18 258.43,1378.57 261.79,1377.96 265.20,1377.35 268.65,1376.75 272.13,1376.15 275.66,1375.55 279.23,1374.95 282.83,1374.35 286.48,1373.75 290.17,1373.16 293.90,1372.57 297.67,1371.98 301.47,1371.39 305.32,1370.80 309.21,1370.22 313.14,1369.64 317.11,1369.06 321.12,1368.48 325.17,1367.91 329.26,1367.34 333.40,1366.77 337.57,1366.20 341.78,1365.64 346.03,1365.08 350.32,1364.52 354.66,1363.96 359.03,1363.41 363.44,1362.86 367.90,1362.31 372.39,1361.76 376.92,1361.22 381.50,1360.68 386.11,1360.14 390.77,1359.60 395.46,1359.07 400.20,1358.53 404.98,1358.00 409.79,1357.47 414.65,1356.95 419.55,1356.42 424.48,1355.90 429.46,1355.38 434.48,1354.85 439.54,1354.33 444.64,1353.81 449.77,1353.30 454.95,1352.78 460.17,1352.26 465.43,1351.74 470.73,1351.22 476.07,1350.70 481.45,1350.19 486.87,1349.67 492.34,1349.14 497.84,1348.62 503.38,1348.10 508.96,1347.57 514.58,1347.04 520.25,1346.51 525.95,1345.98 531.69,1345.44 537.48,1344.90 543.30,1344.35 549.17,1343.80 555.07,1343.24 561.01,1342.68 567.00,1342.11" fill="none" stroke="#a47ec7" stroke-width="1.55" stroke-linejoin="round" stroke-linecap="butt" />
<polyline points="132.70,1426.60 132.72,1426.26 132.78,1425.91 132.88,1425.55 133.01,1425.19 133.19,1424.83 133.40,1424.45 133.66,1424.08 133.95,1423.69 134.28,1423.30 134.66,1422.91 135.07,1422.51 135.52,1422.11 136.01,1421.70 136.53,1421.28 137.10,1420.86 137.71,1420.43 138.35,1420.00 139.04,1419.57 139.76,1419.13 140.52,1418.69 141.33,1418.24 142.17,1417.79 143.05,1417.33 143.97,1416.87 144.93,1416.40 145.92,1415.93 146.96,1415.46 148.04,1414.98 149.15,1414.50 150.31,1414.02 151.50,1413.53 152.73,1413.04 154.00,1412.54 155.31,1412.04 156.66,1411.54 158.05,1411.04 159.48,1410.53 160.95,1410.02 162.45,1409.51 164.00,1408.99 165.58,1408.47 167.21,1407.95 168.87,1407.43 170.57,1406.90 172.31,1406.37 174.09,1405.84 175.91,1405.31 177.77,1404.78 179.67,1404.24 181.61,1403.70 183.58,1403.16 185.60,1402.62 187.65,1402.08 189.74,1401.53 191.88,1400.99 194.05,1400.44 196.26,1399.90 198.51,1399.35 200.80,1398.80 203.12,1398.25 205.49,1397.70 207.90,1397.14 210.34,1396.59 212.83,1396.04 215.35,1395.49 217.91,1394.93 220.51,1394.38 223.16,1393.82 225.84,1393.27 228.55,1392.72 231.31,1392.16 234.11,1391.61 236.95,1391.06 239.82,1390.50 242.74,1389.95 245.69,1389.40 248.68,1388.85 251.72,1388.30 254.79,1387.75 257.90,1387.20 261.05,1386.65 264.24,1386.10 267.46,1385.56 270.73,1385.01 274.04,1384.47 277.38,1383.92 280.77,1383.38 284.19,1382.84 287.65,1382.30 291.15,1381.77 294.69,1381.23 298.27,1380.70 301.89,1380.16 305.55,1379.63 309.25,1379.10 312.99,1378.57 316.76,1378.05 320.58,1377.53 324.43,1377.00 328.32,1376.48 332.25,1375.97 336.22,1375.45 340.24,1374.94 344.28,1374.42 348.37,1373.91 352.50,1373.41 356.67,1372.90 360.87,1372.40 365.12,1371.90 369.40,1371.40 373.73,1370.90 378.09,1370.41 382.49,1369.92 386.93,1369.43 391.41,1368.94 395.93,1368.46 400.49,1367.98 405.08,1367.50 409.72,1367.02 414.40,1366.54 419.11,1366.07 423.86,1365.60 428.66,1365.13 433.49,1364.67 438.36,1364.20 443.27,1363.74 448.22,1363.28 453.21,1362.83 458.23,1362.37 463.30,1361.92 468.41,1361.47 473.55,1361.02 478.74,1360.58 483.96,1360.13 489.22,1359.69 494.52,1359.25 499.86,1358.81 505.24,1358.38 510.66,1357.94 516.12,1357.51 521.62,1357.08 527.15,1356.65 532.73,1356.22 538.34,1355.80 543.99,1355.37 549.69,1354.95 555.42,1354.53 561.19,1354.10 567.00,1353.68" fill="none" stroke="#9d6f66" stroke-width="1.55" stroke-linejoin="round" stroke-linecap="butt" />
<polyline points="160.10,1426.60 160.12,1426.60 160.17,1426.60 160.26,1426.60 160.39,1426.60 160.56,1426.60 160.76,1426.60 161.00,1426.60 161.27,1426.60 161.58,1426.60 161.93,1426.60 162.32,1426.60 162.74,1426.60 163.20,1426.60 163.69,1426.60 164.22,1426.39 164.79,1426.07 165.40,1425.73 166.04,1425.37 166.72,1424.98 167.43,1424.57 168.18,1424.14 168.97,1423.70 169.80,1423.24 170.66,1422.76 171.56,1422.27 172.49,1421.77 173.46,1421.26 174.47,1420.74 175.51,1420.22 176.60,1419.68 177.71,1419.14 178.87,1418.60 180.06,1418.05 181.29,1417.50 182.55,1416.94 183.85,1416.39 185.19,1415.83 186.57,1415.27 187.98,1414.72 189.42,1414.16 190.91,1413.61 192.43,1413.06 193.99,1412.51 195.58,1411.97 197.21,1411.43 198.88,1410.89 200.59,1410.36 202.33,1409.83 204.11,1409.31 205.92,1408.79 207.77,1408.28 209.66,1407.78 211.58,1407.28 213.54,1406.79 215.54,1406.30 217.58,1405.82 219.65,1405.34 221.76,1404.87 223.90,1404.41 226.08,1403.96 228.30,1403.50 230.55,1403.06 232.84,1402.62 235.17,1402.19 237.54,1401.76 239.94,1401.34 242.37,1400.92 244.85,1400.51 247.36,1400.10 249.91,1399.70 252.49,1399.30 255.11,1398.91 257.77,1398.52 260.46,1398.13 263.20,1397.74 265.96,1397.36 268.77,1396.98 271.61,1396.61 274.49,1396.23 277.40,1395.86 280.35,1395.49 283.34,1395.12 286.36,1394.75 289.42,1394.38 292.52,1394.01 295.65,1393.65 298.82,1393.28 302.03,1392.91 305.28,1392.53 308.56,1392.16 311.87,1391.79 315.23,1391.41 318.62,1391.03 322.05,1390.65 325.51,1390.26 329.01,1389.88 332.55,1389.49 336.12,1389.09 339.73,1388.69 343.38,1388.29 347.06,1387.88 350.78,1387.47 354.54,1387.06 358.34,1386.64 362.17,1386.21 366.03,1385.78 369.94,1385.35 373.88,1384.91 377.86,1384.47 381.87,1384.02 385.92,1383.57 390.01,1383.11 394.13,1382.65 398.29,1382.18 402.49,1381.71 406.72,1381.24 410.99,1380.76 415.30,1380.28 419.64,1379.79 424.02,1379.30 428.44,1378.81 432.89,1378.32 437.38,1377.82 441.91,1377.33 446.48,1376.83 451.08,1376.33 455.71,1375.84 460.39,1375.34 465.10,1374.85 469.84,1374.36 474.63,1373.87 479.45,1373.39 484.30,1372.91 489.20,1372.44 494.13,1371.97 499.09,1371.51 504.10,1371.06 509.14,1370.63 514.22,1370.20 519.33,1369.78 524.48,1369.38 529.67,1369.00 534.89,1368.63 540.15,1368.28 545.45,1367.95 550.78,1367.64 556.15,1367.35 561.56,1367.09 567.00,1366.86" fill="none" stroke="#e685c8" stroke-width="1.55" stroke-linejoin="round" stroke-linecap="butt" />
<polyline points="187.50,1426.60 187.52,1426.60 187.57,1426.60 187.65,1426.60 187.77,1426.60 187.93,1426.60 188.12,1426.60 188.34,1426.60 188.59,1426.60 188.88,1426.60 189.21,1426.60 189.57,1426.60 189.96,1426.60 190.39,1426.60 190.85,1426.60 191.35,1426.60 191.88,1426.60 192.44,1426.60 193.04,1426.60 193.67,1426.49 194.34,1426.15 195.04,1425.78 195.77,1425.40 196.54,1425.01 197.35,1424.59 198.18,1424.17 199.06,1423.73 199.96,1423.29 200.90,1422.83 201.88,1422.36 202.88,1421.89 203.93,1421.41 205.00,1420.93 206.12,1420.44 207.26,1419.95 208.44,1419.46 209.65,1418.97 210.90,1418.47 212.18,1417.98 213.50,1417.48 214.85,1416.99 216.23,1416.50 217.65,1416.02 219.11,1415.53 220.59,1415.06 222.11,1414.58 223.67,1414.11 225.26,1413.64 226.88,1413.18 228.54,1412.73 230.23,1412.28 231.96,1411.83 233.72,1411.40 235.52,1410.97 237.35,1410.54 239.21,1410.12 241.11,1409.71 243.04,1409.31 245.00,1408.91 247.00,1408.51 249.04,1408.13 251.11,1407.75 253.21,1407.38 255.35,1407.01 257.52,1406.65 259.72,1406.29 261.96,1405.94 264.23,1405.60 266.54,1405.26 268.88,1404.92 271.26,1404.59 273.67,1404.27 276.11,1403.95 278.59,1403.63 281.11,1403.32 283.65,1403.01 286.23,1402.70 288.85,1402.40 291.50,1402.09 294.18,1401.79 296.90,1401.49 299.65,1401.20 302.44,1400.90 305.26,1400.60 308.11,1400.31 311.00,1400.01 313.93,1399.71 316.88,1399.42 319.87,1399.12 322.90,1398.82 325.96,1398.52 329.05,1398.21 332.18,1397.91 335.34,1397.60 338.54,1397.29 341.77,1396.97 345.04,1396.65 348.34,1396.33 351.67,1396.00 355.04,1395.67 358.44,1395.34 361.87,1395.00 365.34,1394.65 368.85,1394.30 372.39,1393.95 375.96,1393.59 379.57,1393.22 383.21,1392.85 386.88,1392.47 390.59,1392.09 394.34,1391.70 398.11,1391.31 401.92,1390.91 405.77,1390.51 409.65,1390.10 413.57,1389.69 417.51,1389.27 421.50,1388.85 425.51,1388.42 429.57,1387.99 433.65,1387.56 437.77,1387.12 441.92,1386.68 446.11,1386.24 450.33,1385.80 454.59,1385.35 458.88,1384.91 463.21,1384.46 467.57,1384.02 471.96,1383.58 476.39,1383.14 480.85,1382.70 485.34,1382.26 489.87,1381.84 494.44,1381.41 499.03,1381.00 503.67,1380.59 508.33,1380.19 513.03,1379.80 517.77,1379.43 522.54,1379.06 527.34,1378.71 532.18,1378.38 537.05,1378.06 541.96,1377.76 546.90,1377.49 551.87,1377.23 556.88,1377.00 561.92,1376.79 567.00,1376.62" fill="none" stroke="#a3a3a3" stroke-width="1.85" stroke-linejoin="round" stroke-linecap="butt" />
<line x1="44.30" y1="1382.40" x2="670.00" y2="1382.40" stroke="#222" stroke-width="2.0" stroke-dasharray="6.4 4.85"/>
<circle cx="27.4" cy="1374" r="0.8" fill="#555"/>
<defs><linearGradient id="bg1" x1="0" y1="0" x2="0" y2="1"><stop offset="0" stop-color="#fff"/><stop offset="1" stop-color="#f5f5f5"/></linearGradient></defs>
<rect x="56" y="1488" width="557" height="8" fill="url(#bg1)"/>
</svg>
</body></html>
